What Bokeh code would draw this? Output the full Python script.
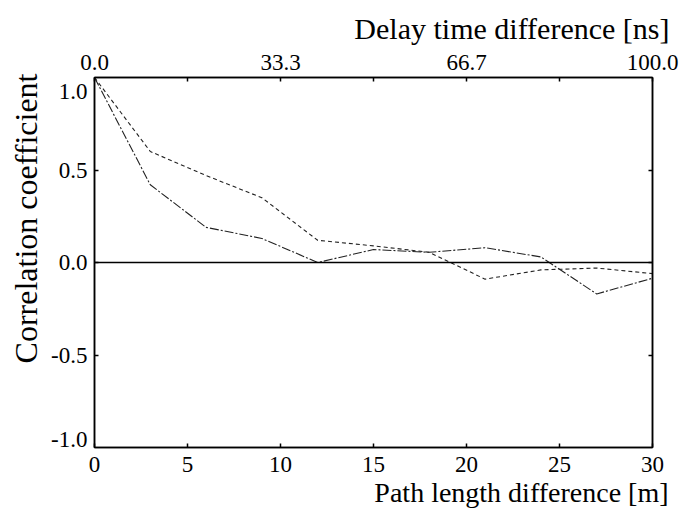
from bokeh.plotting import figure
from bokeh.models import Range1d, LinearAxis, FixedTicker, Span, Title
from bokeh.embed import file_html
from bokeh.resources import INLINE

# ---- data ----
path_m = [0, 3, 6, 9, 12, 15, 18, 21, 24, 27, 30]
corr_dashed = [1.0, 0.60, 0.47, 0.35, 0.12, 0.09, 0.055, -0.09, -0.04, -0.03, -0.06]
corr_dashdot = [1.0, 0.42, 0.19, 0.13, 0.0, 0.07, 0.055, 0.08, 0.03, -0.17, -0.085]

x_ticks = [0, 5, 10, 15, 20, 25, 30]
x_tick_labels = ["0", "5", "10", "15", "20", "25", "30"]
top_tick_labels = ["0.0", "", "33.3", "", "66.7", "", "100.0"]
y_ticks = [-0.5, 0.0, 0.5]
# label positions: the end labels sit slightly inside the frame in the reference
y_label_pos = [-0.955, -0.5, 0.0, 0.5, 0.925]
y_tick_labels = ["-1.0", "-0.5", "0.0", "0.5", "1.0"]

x_title = "Path length difference [m]"
top_title = "Delay time difference [ns]"
y_title = "Correlation coefficient"

FONT = "Liberation Serif"
TICK_SIZE = "23px"

p = figure(width=679, height=513, output_backend="svg", toolbar_location=None,
           x_range=Range1d(0, 30), y_range=Range1d(-1.0, 1.0),
           min_border_left=93, min_border_right=27, min_border_top=77,
           min_border_bottom=66, x_axis_location="below")
p.xgrid.visible = False
p.ygrid.visible = False
p.outline_line_color = "black"
p.outline_line_width = 1.5
p.background_fill_color = "white"
p.border_fill_color = "white"

def style_axis(ax):
    ax.axis_line_color = "black"
    ax.axis_line_width = 1.5
    ax.major_tick_in = 4
    ax.major_tick_out = 0
    ax.major_tick_line_color = "black"
    ax.major_tick_line_width = 1.5
    ax.minor_tick_line_color = None
    ax.major_label_text_font = FONT
    ax.major_label_text_font_size = TICK_SIZE
    ax.major_label_text_color = "black"

# bottom axis
xb = p.xaxis[0]
xb.ticker = FixedTicker(ticks=x_ticks)
xb.major_label_overrides = {t: l for t, l in zip(x_ticks, x_tick_labels)}
style_axis(xb)
xb.major_label_standoff = 9

# left axis: tick marks only
yl = p.yaxis[0]
yl.ticker = FixedTicker(ticks=y_ticks)
style_axis(yl)
yl.major_label_overrides = {t: "" for t in y_ticks}
yl.major_label_text_font_size = "0px"
yl.major_label_standoff = 0

# left axis: labels only
ylab = LinearAxis(ticker=FixedTicker(ticks=y_label_pos))
ylab.major_label_overrides = {t: l for t, l in zip(y_label_pos, y_tick_labels)}
style_axis(ylab)
ylab.axis_line_color = None
ylab.major_tick_in = 0
ylab.major_tick_line_color = None
ylab.major_label_standoff = 7
p.add_layout(ylab, "left")

# top axis
xt = LinearAxis(ticker=FixedTicker(ticks=x_ticks))
xt.major_label_overrides = {t: l for t, l in zip(x_ticks, top_tick_labels)}
style_axis(xt)
xt.major_label_standoff = 8
p.add_layout(xt, "above")

# right axis
yr = LinearAxis(ticker=FixedTicker(ticks=y_ticks))
style_axis(yr)
yr.major_label_overrides = {t: "" for t in y_ticks}
yr.major_label_text_font_size = "0px"
yr.major_label_standoff = 0
p.add_layout(yr, "right")

# zero line
p.add_layout(Span(location=0, dimension="width", line_color="black", line_width=1.3))

# data lines
p.line(path_m, corr_dashed, line_color="#222222", line_width=1.1, line_dash="4 3")
p.line(path_m, corr_dashdot, line_color="#222222", line_width=1.1, line_dash="9 2 2 2")

# axis titles
p.title.text = top_title
p.title.align = "right"
p.title.offset = -17
p.title.text_font = FONT
p.title.text_font_size = "30px"
p.title.text_font_style = "normal"
p.title.text_color = "black"
p.title.standoff = 14

bt = Title(text=x_title, align="right", offset=-16, text_font=FONT,
           text_font_size="28px", text_font_style="normal", text_color="black",
           standoff=0)
p.add_layout(bt, "below")

lt = Title(text=y_title, align="right", offset=-4, text_font=FONT,
           text_font_size="32px", text_font_style="normal", text_color="black")
p.add_layout(lt, "left")

open("out.html", "w").write(file_html(p, INLINE))
